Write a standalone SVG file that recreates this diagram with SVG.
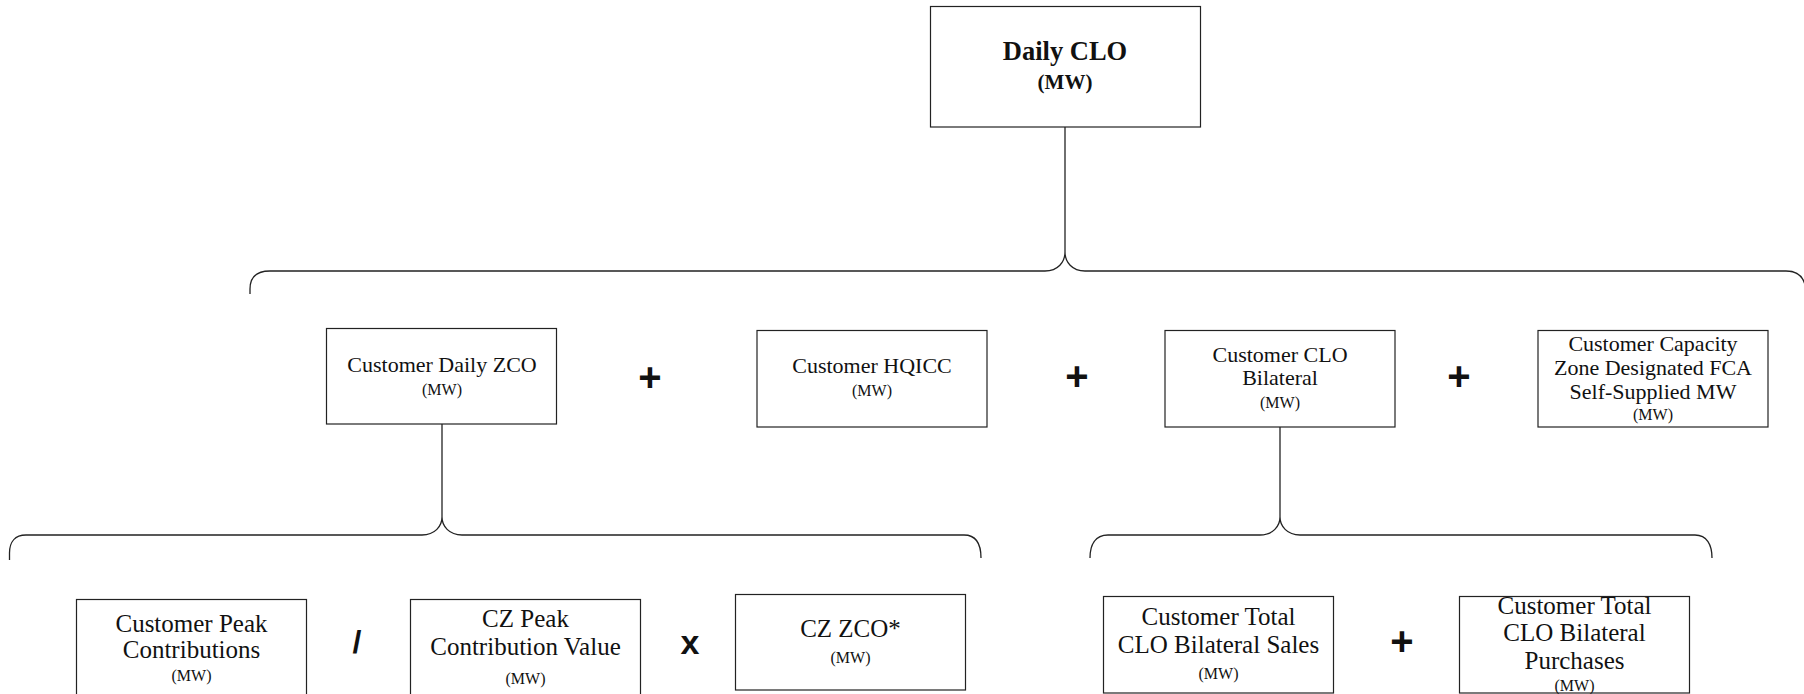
<svg xmlns="http://www.w3.org/2000/svg" width="1804" height="694" viewBox="0 0 1804 694">
<style>
.box{fill:#fff;stroke:#222;stroke-width:1.2}
.t{font-family:"Liberation Serif",serif;fill:#111;text-anchor:middle}
.m{font-size:22px}
.b{font-size:25px}
.s{font-size:16px}
.op{font-family:"Liberation Sans",Arial,sans-serif;font-weight:bold;fill:#111;text-anchor:middle}
.c{fill:none;stroke:#222;stroke-width:1.3}
</style>
<rect width="1804" height="694" fill="#fff"/>
<g id="connectors">
<path class="c" d="M1065,127 V252"/>
<path class="c" d="M250,294 V289 C250,278 256,271 270,271 H1045 C1058,271 1065,262 1065,252 C1065,262 1072,271 1085,271 H1786 C1800,271 1806,280 1806,294"/>
<path class="c" d="M442,424 V517"/>
<path class="c" d="M9.5,560 V553 C9.5,542 15,535 26,535 H422 C435,535 442,526 442,517 C442,526 449,535 462,535 H964 C976,535 981,543 981,558"/>
<path class="c" d="M1280,427 V517"/>
<path class="c" d="M1090,558 C1090,545 1095,535 1108,535 H1260 C1273,535 1280,526 1280,517 C1280,526 1287,535 1300,535 H1695 C1707,535 1712,545 1712,558"/>
</g>
<g id="daily-clo">
<rect class="box" x="930.5" y="6.5" width="270" height="120.5"/>
<text class="t" x="1065" y="60" font-size="26.5" font-weight="bold">Daily CLO</text>
<text class="t" x="1065" y="89" font-size="21" font-weight="bold">(MW)</text>
</g>
<g id="customer-daily-zco">
<rect class="box" x="326.5" y="328.5" width="230" height="95.5"/>
<text class="t m" x="442" y="372">Customer Daily ZCO</text>
<text class="t s" x="442" y="395">(MW)</text>
</g>
<g id="customer-hqicc">
<rect class="box" x="757" y="330.5" width="230" height="96.5"/>
<text class="t m" x="872" y="373">Customer HQICC</text>
<text class="t s" x="872" y="396">(MW)</text>
</g>
<g id="customer-clo-bilateral">
<rect class="box" x="1165" y="330.5" width="230" height="96.5"/>
<text class="t m" x="1280" y="362">Customer CLO</text>
<text class="t m" x="1280" y="385">Bilateral</text>
<text class="t s" x="1280" y="408">(MW)</text>
</g>
<g id="customer-capacity-zone">
<rect class="box" x="1538" y="330.5" width="230" height="96.5"/>
<text class="t m" x="1653" y="351">Customer Capacity</text>
<text class="t m" x="1653" y="375">Zone Designated FCA</text>
<text class="t m" x="1653" y="399">Self-Supplied MW</text>
<text class="t s" x="1653" y="420">(MW)</text>
</g>
<g id="customer-peak-contributions">
<rect class="box" x="76.5" y="599.5" width="230" height="100"/>
<text class="t b" x="191.5" y="632">Customer Peak</text>
<text class="t b" x="191.5" y="658">Contributions</text>
<text class="t s" x="191.5" y="681">(MW)</text>
</g>
<g id="cz-peak-contribution-value">
<rect class="box" x="410.5" y="599.5" width="230" height="100"/>
<text class="t b" x="525.5" y="627">CZ Peak</text>
<text class="t b" x="525.5" y="655">Contribution Value</text>
<text class="t s" x="525.5" y="684">(MW)</text>
</g>
<g id="cz-zco">
<rect class="box" x="735.5" y="594.5" width="230" height="95.5"/>
<text class="t b" x="850.5" y="637">CZ ZCO*</text>
<text class="t s" x="850.5" y="663">(MW)</text>
</g>
<g id="customer-total-clo-bilateral-sales">
<rect class="box" x="1103.5" y="596.5" width="230" height="96.5"/>
<text class="t b" x="1218.5" y="625">Customer Total</text>
<text class="t b" x="1218.5" y="653">CLO Bilateral Sales</text>
<text class="t s" x="1218.5" y="679">(MW)</text>
</g>
<g id="customer-total-clo-bilateral-purchases">
<rect class="box" x="1459.5" y="596.5" width="230" height="96.5"/>
<text class="t b" x="1574.5" y="614">Customer Total</text>
<text class="t b" x="1574.5" y="641">CLO Bilateral</text>
<text class="t b" x="1574.5" y="669">Purchases</text>
<text class="t s" x="1574.5" y="691">(MW)</text>
</g>
<g id="operators">
<text class="op" x="650" y="391" font-size="40">+</text>
<text class="op" x="1077" y="390" font-size="40">+</text>
<text class="op" x="1459" y="390" font-size="40">+</text>
<text class="op" x="357" y="653" font-size="32">/</text>
<text class="op" x="690" y="654" font-size="34">x</text>
<text class="op" x="1402" y="655" font-size="40">+</text>
</g>
</svg>
